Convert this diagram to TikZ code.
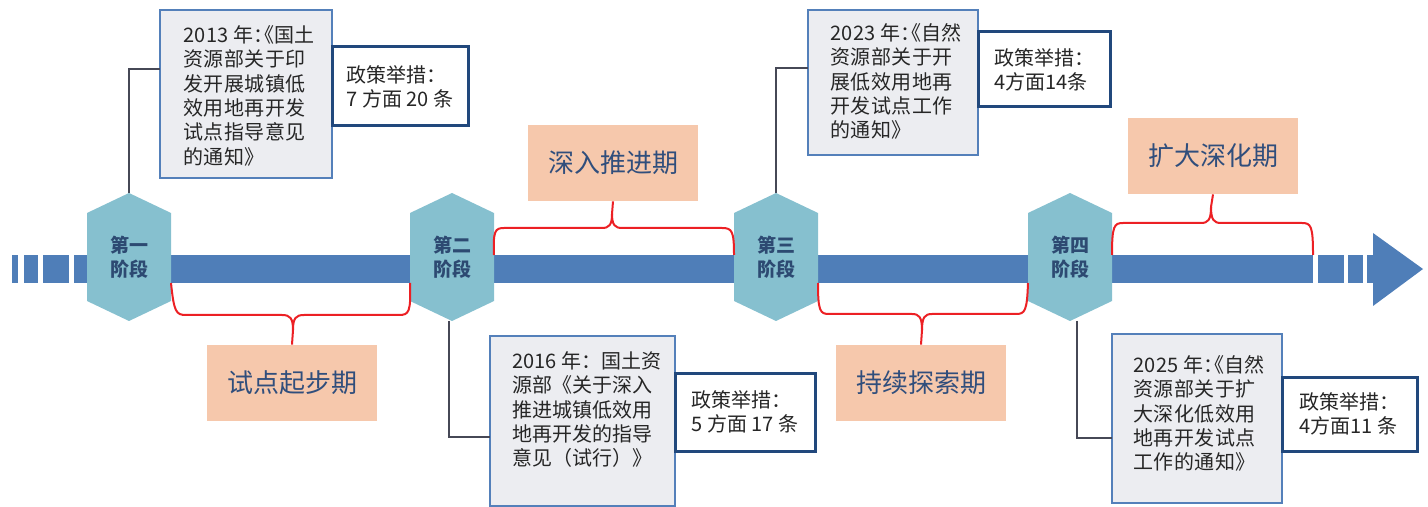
\documentclass[tikz,border=0pt]{standalone}
\usepackage{fontspec}
\setmainfont{Noto Sans CJK SC}

\definecolor{axisblue}{RGB}{79,126,184}
\definecolor{stagefill}{RGB}{134,192,207}
\definecolor{stagetext}{RGB}{45,74,114}
\definecolor{phasefill}{RGB}{246,200,172}
\definecolor{phasetext}{RGB}{48,78,124}
\definecolor{docfill}{RGB}{236,237,241}
\definecolor{docline}{RGB}{84,128,186}
\definecolor{measureline}{RGB}{33,72,124}
\definecolor{linkgray}{RGB}{70,72,86}
\definecolor{curlyred}{RGB}{236,32,36}

% half width punctuation
\newcommand{\halfpunct}[1]{{\addfontfeature{CharacterWidth=AlternateHalf}#1}}

\begin{document}
\begin{tikzpicture}[x=0.5pt, y=-0.5pt,
    stage/.style={rectangle, minimum width=42pt, minimum height=64pt, inner sep=0pt, outer sep=0pt,
        path picture={\fill[stagefill] (path picture bounding box.north)
            -- ([yshift=-10pt]path picture bounding box.north east) -- ([yshift=10pt]path picture bounding box.south east)
            -- (path picture bounding box.south) -- ([yshift=10pt]path picture bounding box.south west)
            -- ([yshift=-10pt]path picture bounding box.north west) -- cycle;},
        align=center, text=stagetext, font=\fontsize{9.5}{12}\selectfont\bfseries},
    phase/.style={fill=phasefill, minimum width=85pt, minimum height=38pt, inner sep=0pt,
        text=phasetext, font=\fontsize{13}{15}\selectfont},
    doc/.style={draw=docline, line width=1.2pt, fill=docfill, anchor=north west, inner sep=0pt, outer sep=0pt},
    doctext/.style={anchor=north west, align=left, inner sep=0pt, text=black!85, font=\fontsize{10}{12.2}\selectfont},
    wide/.style={font=\fontsize{10}{12.2}\selectfont\addfontfeature{LetterSpace=2}},
    measure/.style={draw=measureline, line width=1.5pt, fill=white, anchor=north west, inner sep=0pt, outer sep=0pt,
        align=left, text=black!85, font=\fontsize{10}{12}\selectfont},
    link/.style={draw=linkgray, line width=1.2pt},
    curly/.style={draw=curlyred, line width=1pt}]

    \useasboundingbox (0,0) rectangle (1428,507);

    % time axis
    \fill[axisblue] (12,255) rectangle (18,283);
    \fill[axisblue] (24,255) rectangle (38,283);
    \fill[axisblue] (43,255) rectangle (69,283);
    \node[fill=axisblue, minimum width=619.5pt, minimum height=14pt, inner sep=0pt, outer sep=0pt] (axis) at (693.5,269) {};
    \fill[axisblue] (1318,255) rectangle (1344,283);
    \fill[axisblue] (1348,255) rectangle (1363,283);
    \fill[axisblue] (1367,255) rectangle (1375,283);
    \fill[axisblue] (1373,233) -- (1423,269) -- (1373,306) -- cycle;

    % policy documents
    \node[doc, minimum width=86pt, minimum height=84pt] (doc1) at (160,10) {};
    \node[doc, minimum width=92.5pt, minimum height=85pt] (doc2) at (490,336) {};
    \node[doc, minimum width=85pt, minimum height=72.5pt] (doc3) at (808,10) {};
    \node[doc, minimum width=85pt, minimum height=84.5pt] (doc4) at (1112,334) {};

    \node[doctext, wide] (t1) at ([shift={(23,15)}]doc1.north west) {2013 年\halfpunct{：《}国土\\资源部关于印\\发开展城镇低\\效用地再开发\\试点指导意见\\的通知》};
    \node[doctext] (t2) at ([shift={(22,15)}]doc2.north west) {2016 年：国土资\\源部《关于深入\\推进城镇低效用\\地再开发的指导\\意见（试行）》};
    \node[doctext, wide] (t3) at ([shift={(22,13)}]doc3.north west) {2023 年\halfpunct{：《}自然\\资源部关于开\\展低效用地再\\开发试点工作\\的通知》};
    \node[doctext, wide] (t4) at ([shift={(21,21)}]doc4.north west) {2025 年\halfpunct{：《}自然\\资源部关于扩\\大深化低效用\\地再开发试点\\工作的通知》};

    \node[measure, minimum width=68pt, minimum height=39.5pt] (m1) at (332,47) {政策举措：\\7 方面 20 条};
    \node[measure, minimum width=70pt, minimum height=39pt] (m2) at (675,373) {政策举措：\\5 方面 17 条};
    \node[measure, minimum width=66pt, minimum height=37.5pt] (m3) at (978,32) {政策举措：\\4方面14条};
    \node[measure, minimum width=67.5pt, minimum height=37pt] (m4) at (1282,377) {政策举措：\\4方面11 条};

    % stages
    \node[stage] (s1) at (129,257) {第一\\阶段};
    \node[stage] (s2) at (452,257) {第二\\阶段};
    \node[stage] (s3) at (776,257) {第三\\阶段};
    \node[stage] (s4) at (1070,257) {第四\\阶段};

    \draw[link] (s1.north) |- ([yshift=-29.5pt]doc1.north west);
    \draw[link] ([xshift=-1.5pt]s2.south) |- ([yshift=-50.5pt]doc2.north west);
    \draw[link] (s3.north) |- ([yshift=-29pt]doc3.north west);
    \draw[link] ([xshift=3.5pt]s4.south) |- ([yshift=-52pt]doc4.north west);

    % periods
    \node[phase] (p1) at (292,383) {试点起步期};
    \node[phase] (p2) at (613,163) {深入推进期};
    \node[phase] (p3) at (921,383) {持续探索期};
    \node[phase] (p4) at (1213,156) {扩大深化期};

    \draw[curly] (s1.east |- axis.south) .. controls (174,312) and (176,315) .. (186,315) -- (282,315) .. controls (290,315) and (293,318) .. (293,330) -- (p1.north);
    \draw[curly] (s2.west |- axis.south) .. controls (411,312) and (409,315) .. (399,315) -- (304,315) .. controls (296,315) and (293,318) .. (293,330);
    \draw[curly] (s2.east |- axis.north) .. controls (493,231) and (495,228) .. (504,228) -- (602,228) .. controls (609,228) and (612,225) .. (612,214) -- (p2.south);
    \draw[curly] (s3.west |- axis.north) .. controls (734,231) and (732,228) .. (722,228) -- (622,228) .. controls (615,228) and (612,225) .. (612,214);
    \draw[curly] (s3.east |- axis.south) .. controls (818,311) and (820,314) .. (829,314) -- (912,314) .. controls (919,314) and (922,317) .. (922,330) -- (p3.north);
    \draw[curly] (s4.west |- axis.south) .. controls (1027,311) and (1025,314) .. (1016,314) -- (932,314) .. controls (925,314) and (922,317) .. (922,330);
    \draw[curly] (s4.east |- axis.north) .. controls (1112,226) and (1114,223) .. (1123,223) -- (1201,223) .. controls (1208,223) and (1211,220) .. (1211,207) -- (p4.south);
    \draw[curly] (axis.north east) .. controls (1313,226) and (1311,223) .. (1302,223) -- (1221,223) .. controls (1214,223) and (1211,220) .. (1211,207);
\end{tikzpicture}
\end{document}
